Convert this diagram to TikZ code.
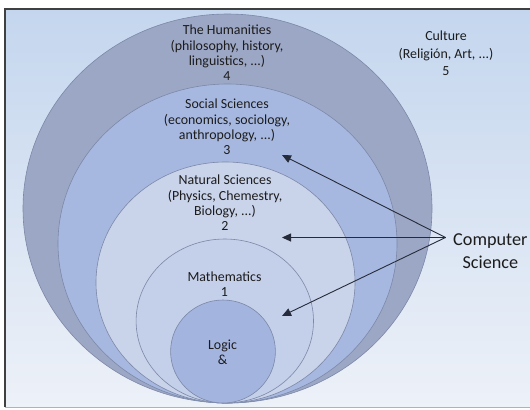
\documentclass[tikz,border=0pt]{standalone}
\usepackage{fontspec}
\setmainfont{Carlito}
\usetikzlibrary{arrows.meta}
\definecolor{bgtop}{HTML}{C4D6EE}
\definecolor{bgbot}{HTML}{EDF1F8}
\definecolor{humfill}{HTML}{9CA7C5}
\definecolor{socfill}{HTML}{A7B8E0}
\definecolor{natfill}{HTML}{C9D3EA}
\definecolor{mathfill}{HTML}{C4CFE9}
\definecolor{logfill}{HTML}{A3B4DF}
\definecolor{ringline}{HTML}{7C88A8}
\definecolor{textdark}{HTML}{1C1C1C}
\definecolor{arrowdark}{HTML}{252B3A}
\tikzset{
  field/.style={draw=ringline, line width=0.6bp},
  label/.style={align=center, text=textdark, inner sep=0pt,
    font=\fontsize{13.9bp}{15.3bp}\selectfont},
  bigtext/.style={align=center, text=textdark, inner sep=0pt,
    font=\fontsize{18.2bp}{23bp}\selectfont},
  pointer/.style={draw=arrowdark, line width=0.9bp,
    -{Triangle[length=9bp,width=8bp]}}
}
\begin{document}
\begin{tikzpicture}[x=1bp,y=-1bp]
\useasboundingbox (0,0) rectangle (530,409);
% framed, shaded panel
\fill[white] (0,0) rectangle (530,409);
\shade[top color=bgtop, bottom color=bgbot] (5,9) rectangle (530,407);
\draw[gray!60, line width=0.8bp] (5,407) -- (530,407);
\draw[black!75, line width=2bp] (5,407) -- (5,9) -- (530,9);
% nested fields of knowledge
\filldraw[field, fill=humfill] (227.5,208.5) ellipse [x radius=204.5, y radius=194.5];
\filldraw[field, fill=socfill] (227.5,243.5) ellipse [x radius=169.5, y radius=159.5];
\filldraw[field, fill=natfill] (225.5,282.5) ellipse [x radius=129.5, y radius=120.5];
\filldraw[field, fill=mathfill] (224.8,321) ellipse [x radius=88.7, y radius=82];
\filldraw[field, fill=logfill] (223,351.5) ellipse [x radius=52.4, y radius=51.5];
% labels
\node[label] (hum) at (227,53) {The Humanities\\(philosophy, history,\\linguistics, ...)\\4};
\node[label, font=\fontsize{13.9bp}{17.5bp}\selectfont] (cul) at (446,53.5) {Culture\\(Religión, Art, ...)\\5};
\node[label] (soc) at (227,127) {Social Sciences\\(economics, sociology,\\anthropology, ...)\\3};
\node[label] (nat) at (225,203) {Natural Sciences\\(Physics, Chemestry,\\Biology, ...)\\2};
\node[label] (math) at (224.5,284) {Mathematics\\1};
\node[label] (logic) at (222.5,352.5) {Logic\\\&};
\node[bigtext, anchor=west] (cs) at (453,251.5) {Computer\\Science};
% pointers from computer science
\coordinate (fork) at (445.5,237.5);
\coordinate (t3) at (282,155);
\coordinate (t2) at (282,237.5);
\coordinate (t1) at (282,316);
\draw[pointer] (fork) -- (t3);
\draw[pointer] (fork) -- (t2);
\draw[pointer] (fork) -- (t1);
\end{tikzpicture}
\end{document}
